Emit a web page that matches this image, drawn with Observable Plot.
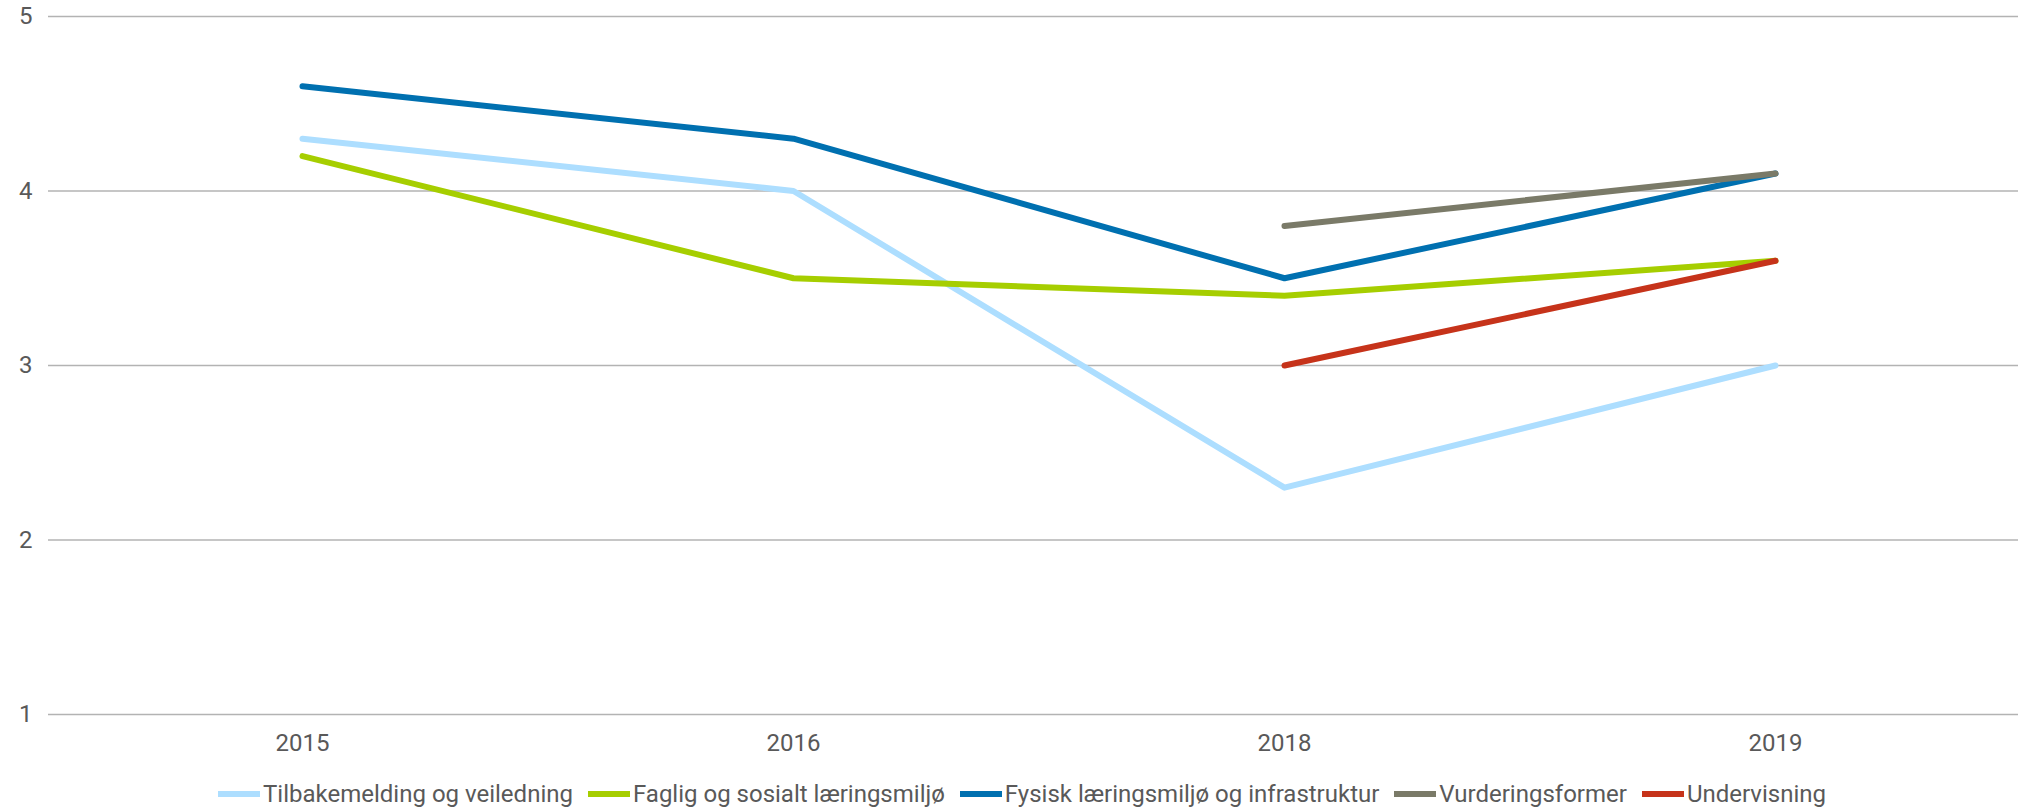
<!DOCTYPE html>
<html>
<head>
<meta charset="utf-8">
<script src="https://cdn.jsdelivr.net/npm/d3@7"></script>
<script src="https://cdn.jsdelivr.net/npm/@observablehq/plot@0.6"></script>
<style>
  html, body { margin: 0; padding: 0; background: #fff; }
  body { width: 2018px; font-family: Roboto, "Noto Sans", sans-serif; }
  #legend { display: flex; justify-content: center; align-items: center; height: 48px; font-size: 24px; color: #595959; padding-left: 26px; }
  .item { display: flex; align-items: center; margin-right: 15px; }
  .item:last-child { margin-right: 0; }
  .sw { width: 42px; height: 6px; margin-right: 3px; }
</style>
</head>
<body>
<div id="chart"></div>
<div id="legend"></div>
<script>
const years = ["2015", "2016", "2018", "2019"];
const seriesNames = [
  "Tilbakemelding og veiledning",
  "Faglig og sosialt læringsmiljø",
  "Fysisk læringsmiljø og infrastruktur",
  "Vurderingsformer",
  "Undervisning"
];
const tilbakemelding = [4.3, 4.0, 2.3, 3.0];
const faglig = [4.2, 3.5, 3.4, 3.6];
const fysisk = [4.6, 4.3, 3.5, 4.1];
const vurdering = [null, null, 3.8, 4.1];
const undervisning = [null, null, 3.0, 3.6];
const colors = ["#ADDEFF", "#A6CE00", "#0070B0", "#7A7A68", "#C6331A"];
const yTicks = [1, 2, 3, 4, 5];

const seriesValues = [tilbakemelding, faglig, fysisk, vurdering, undervisning];
const data = [];
seriesNames.forEach((name, i) => {
  seriesValues[i].forEach((v, j) => {
    if (v != null) data.push({series: name, year: years[j], value: v});
  });
});

const chart = Plot.plot({
  width: 2018,
  height: 770,
  marginTop: 16,
  marginBottom: 56,
  marginLeft: 48,
  marginRight: 0,
  style: {fontFamily: "Roboto, 'Noto Sans', sans-serif", fontSize: "24px", color: "#595959", background: "#fff"},
  x: {type: "point", domain: years, range: [301, 1776], padding: 0},
  y: {domain: [1, 5]},
  color: {domain: seriesNames, range: colors},
  marks: [
    Plot.ruleY(yTicks, {stroke: "#b3b3b3", strokeWidth: 1.5}),
    Plot.axisY(yTicks, {tickSize: 0, tickPadding: 16, label: null, fill: "#595959", tickFormat: d => String(d)}),
    Plot.axisX({tickSize: 0, tickPadding: 19, label: null, fill: "#595959"}),
    Plot.line(data, {x: "year", y: "value", z: "series", stroke: "series", strokeWidth: 6, strokeLinecap: "round", strokeLinejoin: "round"})
  ]
});
document.getElementById("chart").appendChild(chart);

const legend = document.getElementById("legend");
seriesNames.forEach((name, i) => {
  const item = document.createElement("div");
  item.className = "item";
  const sw = document.createElement("div");
  sw.className = "sw";
  sw.style.background = colors[i];
  const label = document.createElement("span");
  label.textContent = name;
  item.appendChild(sw);
  item.appendChild(label);
  legend.appendChild(item);
});
</script>
</body>
</html>
